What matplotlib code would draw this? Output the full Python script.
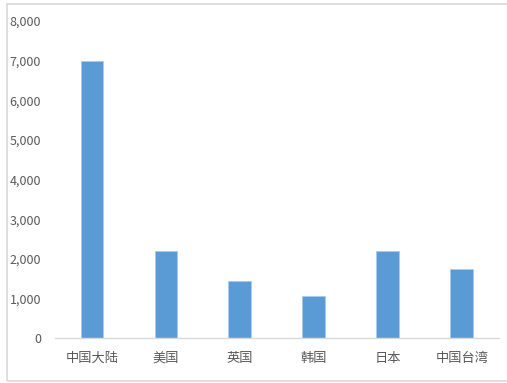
import matplotlib.pyplot as plt
from matplotlib.patches import Rectangle
from matplotlib.ticker import FuncFormatter

plt.rcParams['font.family'] = ['Noto Sans CJK SC', 'DejaVu Sans']

regions = ['中国大陆', '美国', '英国', '韩国', '日本', '中国台湾']
values = [7000, 2200, 1440, 1050, 2200, 1750]
yticks = [0, 1000, 2000, 3000, 4000, 5000, 6000, 7000, 8000]

bar_color = '#5B9BD5'
text_color = '#595959'

fig = plt.figure(figsize=(5.07, 3.83), dpi=100)
ax = fig.add_axes([0.1085, 0.1175, 0.8755, 0.8275])

x = range(len(regions))
ax.bar(x, values, width=0.31, color=bar_color, edgecolor='#a9cbea', linewidth=0.6)

ax.set_xlim(-0.5, len(regions) - 0.5)
ax.set_ylim(0, 8000)
ax.set_yticks(yticks)
ax.yaxis.set_major_formatter(FuncFormatter(lambda v, p: f'{int(v):,}'))
ax.set_xticks(list(x))
ax.set_xticklabels(regions, fontsize=9.5)

for s in ['top', 'right', 'left']:
    ax.spines[s].set_visible(False)
ax.spines['bottom'].set_color('#d9d9d9')
ax.spines['bottom'].set_linewidth(1.0)

ax.tick_params(axis='both', length=0, colors=text_color)
ax.tick_params(axis='y', pad=10, labelsize=9)
ax.tick_params(axis='x', pad=10)

# outer chart frame
fig.patches.append(Rectangle((7 / 507, 2 / 383), 1.0, 377 / 383, transform=fig.transFigure,
                             fill=False, edgecolor='#d9d9d9', linewidth=1.2))

fig.savefig('out.png', dpi=100)
